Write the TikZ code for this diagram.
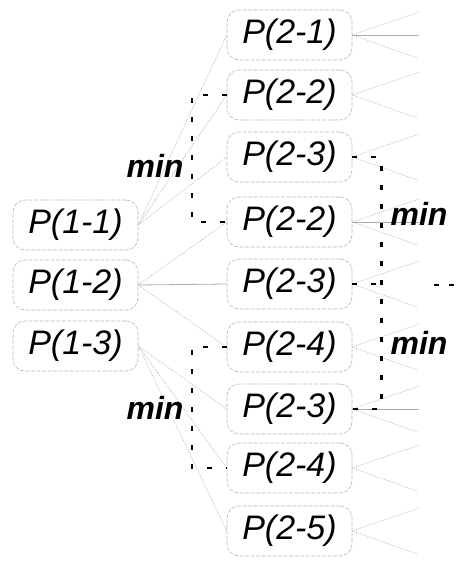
\documentclass[tikz,border=0pt]{standalone}
\usepackage{fontspec}
\setmainfont{Liberation Sans}
\usetikzlibrary{calc}
\begin{document}
\begin{tikzpicture}[x=1pt,y=-1pt,
  pnode/.style={draw=gray!55, dash pattern=on 4pt off 1.5pt, line width=0.6pt,
    rounded corners=12pt, minimum width=125pt, minimum height=50pt, inner sep=0pt,
    font=\fontsize{34}{37}\selectfont\itshape},
  thinl/.style={gray!65, line width=0.5pt, dash pattern=on 1pt off 1pt},
  solidl/.style={gray!65, line width=0.8pt},
  minline/.style={black, line width=2.4pt, dash pattern=on 5pt off 14pt},
  minlabel/.style={font=\fontsize{32}{34}\selectfont\bfseries\itshape, inner sep=0pt}]
\useasboundingbox (0,0) rectangle (461,563);
% left column
\node[pnode] (l1) at (75.5,225) {P(1-1)};
\node[pnode] (l2) at (75.5,285) {P(1-2)};
\node[pnode] (l3) at (75.5,346) {P(1-3)};
% right column
\node[pnode] (r1) at (289.5,35) {P(2-1)};
\node[pnode] (r2) at (289.5,95) {P(2-2)};
\node[pnode] (r3) at (289.5,157) {P(2-3)};
\node[pnode] (r4) at (289.5,222) {P(2-2)};
\node[pnode] (r5) at (289.5,284) {P(2-3)};
\node[pnode] (r6) at (289.5,347) {P(2-4)};
\node[pnode] (r7) at (289.5,409) {P(2-3)};
\node[pnode] (r8) at (289.5,468) {P(2-4)};
\node[pnode] (r9) at (289.5,531) {P(2-5)};
% left to right connectors
\draw[thinl] (l1.east) -- (r1.west);
\draw[thinl] (l1.east) -- (r2.west);
\draw[thinl] (l1.east) -- (r3.west);
\draw[thinl] (l2.east) -- (r4.west);
\draw[solidl] (l2.east) -- (r5.west);
\draw[thinl] (l2.east) -- (r6.west);
\draw[thinl] (l3.east) -- (r7.west);
\draw[thinl] (l3.east) -- (r8.west);
\draw[thinl] (l3.east) -- (r9.west);
% fans on the right
\foreach \i in {1,...,9} {
  \coordinate (fu\i) at ($(r\i.east)+(67,-23)$);
  \coordinate (fd\i) at ($(r\i.east)+(65,23)$);
  \draw[thinl] (r\i.east) -- (fu\i);
  \draw[thinl] (r\i.east) -- (fd\i);
}
\foreach \i in {1,4,7} {
  \coordinate (fh\i) at ($(r\i.east)+(67,0)$);
  \draw[solidl] (r\i.east) -- (fh\i);
}
% min brackets
\draw[minline] (r2.west) -- ++(-35,0) |- (r4.west);
\draw[minline] (r6.west) -- ++(-35,0) |- (r8.west);
\draw[minline] (r3.east) -- ++(29,0) |- (r7.east);
\draw[minline] (r5.east) -- ++(29,0);
% continuation dots
\coordinate (e1) at (434,285);
\coordinate (e2) at (439,285);
\coordinate (e3) at (449,285);
\coordinate (e4) at (454,285);
\draw[black, line width=2.4pt] (e1) -- (e2);
\draw[black, line width=2.4pt] (e3) -- (e4);
% min labels
\node[minlabel] (m1) at (155,166) {min};
\node[minlabel] (m2) at (155,408) {min};
\node[minlabel] (m3) at (419,214) {min};
\node[minlabel] (m4) at (419,343) {min};
\end{tikzpicture}
\end{document}
